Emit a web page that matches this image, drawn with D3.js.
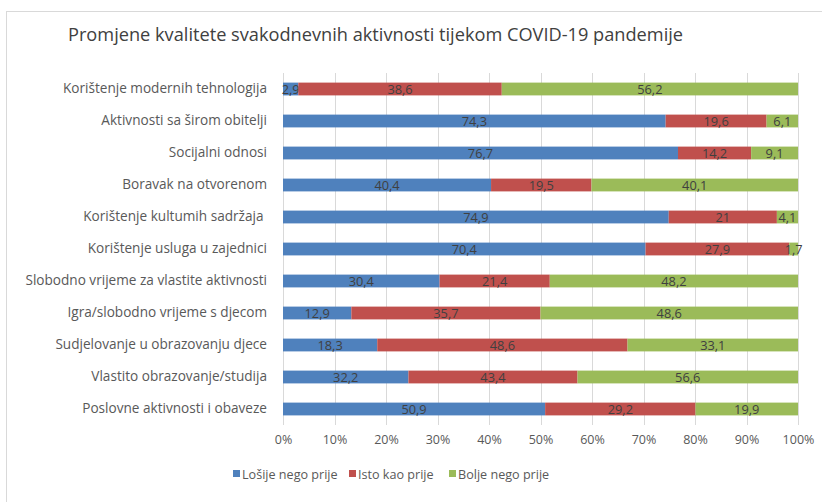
<!DOCTYPE html>
<html>
<head>
<meta charset="utf-8">
<script src="https://d3js.org/d3.v7.min.js"></script>
<style>
  body { margin: 0; background: #fff; }
  svg { font-family: "Open Sans", sans-serif; }
</style>
</head>
<body>
<svg id="chart" width="822" height="502"></svg>
<script>
// categories, top to bottom
var categories = [
  "Korištenje modernih tehnologija",
  "Aktivnosti sa širom obitelji",
  "Socijalni odnosi",
  "Boravak na otvorenom",
  "Korištenje kultumih sadržaja ",
  "Korištenje usluga u zajednici",
  "Slobodno vrijeme za vlastite aktivnosti",
  "Igra/slobodno vrijeme s djecom",
  "Sudjelovanje u obrazovanju djece",
  "Vlastito obrazovanje/studija",
  "Poslovne aktivnosti i obaveze"
];
var losije = [2.9, 74.3, 76.7, 40.4, 74.9, 70.4, 30.4, 12.9, 18.3, 32.2, 50.9];
var isto   = [38.6, 19.6, 14.2, 19.5, 21, 27.9, 21.4, 35.7, 48.6, 43.4, 29.2];
var bolje  = [56.2, 6.1, 9.1, 40.1, 4.1, 1.7, 48.2, 48.6, 33.1, 56.6, 19.9];
var seriesNames = ["Lošije nego prije", "Isto kao prije", "Bolje nego prije"];
var xTicks = [0, 0.1, 0.2, 0.3, 0.4, 0.5, 0.6, 0.7, 0.8, 0.9, 1];
var title = "Promjene kvalitete svakodnevnih aktivnosti tijekom COVID-19 pandemije";

var colors = ["#4f81bd", "#c0504d", "#9bbb59"];

var svg = d3.select("#chart");

// chart frame
svg.append("rect")
  .attr("x", 6.5).attr("y", 11.5)
  .attr("width", 830).attr("height", 500)
  .attr("fill", "#fff")
  .attr("stroke", "#d9d9d9");

svg.append("text")
  .attr("x", 68).attr("y", 41)
  .attr("font-size", 18.2)
  .attr("fill", "#404040")
  .text(title);

var margin = {left: 283, right: 24, top: 73, bottom: 77};
var W = 822 - margin.left - margin.right;
var H = 502 - margin.top - margin.bottom;

var g = svg.append("g").attr("transform", "translate(" + margin.left + "," + margin.top + ")");

// build stacked rows (100% stacked)
var rows = categories.map(function(c, i) {
  return {cat: c, vals: [losije[i], isto[i], bolje[i]]};
});

var x = d3.scaleLinear().domain([0, 1]).range([0, W]);
var y = d3.scaleBand().domain(categories).range([0, H]).paddingInner(0.6).paddingOuter(0.3);

// gridlines
g.append("g")
  .selectAll("line").data(xTicks).enter().append("line")
  .attr("x1", function(d) { return Math.round(x(d)) + 0.5; })
  .attr("x2", function(d) { return Math.round(x(d)) + 0.5; })
  .attr("y1", 0).attr("y2", H)
  .attr("stroke", "#d9d9d9");

// x axis labels
var xAxis = g.append("g")
  .attr("transform", "translate(0," + H + ")")
  .call(d3.axisBottom(x).tickValues(xTicks).tickFormat(d3.format(".0%")).tickSize(0).tickPadding(10));
xAxis.select(".domain").remove();
xAxis.selectAll("text").attr("font-size", 12.5).attr("fill", "#595959").attr("font-family", "Open Sans");

// y axis labels
var yAxis = g.append("g")
  .call(d3.axisLeft(y).tickSize(0).tickPadding(16));
yAxis.select(".domain").remove();
yAxis.selectAll("text").attr("font-size", 13.6).attr("fill", "#595959").attr("font-family", "Open Sans")
  .style("white-space", "pre");

// segments
rows.forEach(function(r) {
  var total = d3.sum(r.vals);
  var acc = 0;
  r.vals.forEach(function(v, k) {
    var x0 = acc / total, x1 = (acc + v) / total;
    acc += v;
    g.append("rect")
      .attr("x", x(x0)).attr("width", x(x1) - x(x0))
      .attr("y", y(r.cat)).attr("height", y.bandwidth())
      .attr("fill", colors[k]);
    g.append("text")
      .attr("x", (x(x0) + x(x1)) / 2)
      .attr("y", y(r.cat) + y.bandwidth() / 2)
      .attr("dy", "0.36em")
      .attr("text-anchor", "middle")
      .attr("font-size", 12.8)
      .attr("fill", "#404040")
      .text(String(v).replace(".", ","));
  });
});

// legend
var legX = [233, 349, 449];
var leg = svg.append("g").attr("transform", "translate(0,474)");
seriesNames.forEach(function(n, k) {
  leg.append("rect").attr("x", legX[k]).attr("y", -4).attr("width", 7).attr("height", 7).attr("fill", colors[k]);
  leg.append("text").attr("x", legX[k] + 9).attr("y", 0).attr("dy", "0.36em")
    .attr("font-size", 12.6).attr("fill", "#595959").text(n);
});
</script>
</body>
</html>
